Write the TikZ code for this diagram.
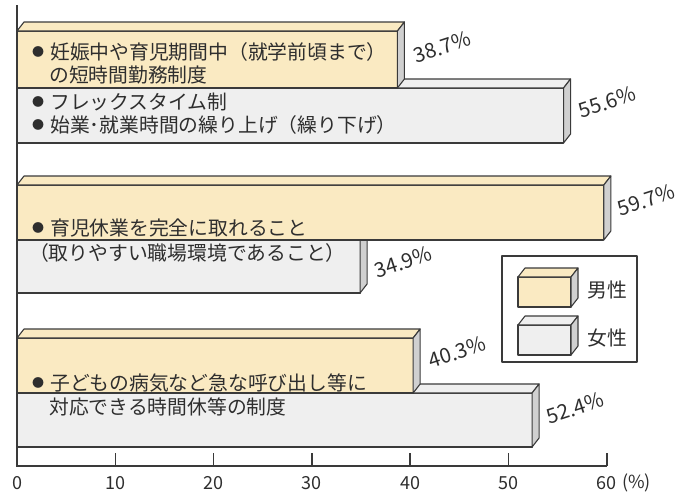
\documentclass[tikz,border=0pt]{standalone}
\usepackage{fontspec}
\setmainfont{Noto Sans CJK JP}
\usetikzlibrary{positioning}

\definecolor{malefill}{HTML}{FAEAC2}
\definecolor{femalefill}{HTML}{EFEFEF}
\definecolor{sidefill}{HTML}{D0D0D0}
\definecolor{edgegray}{HTML}{3A3A3A}
\definecolor{textgray}{HTML}{2E2E2E}

% 3D bar: fill, left x, right x, top y, bottom y
\newcommand{\cubebox}[5]{%
  \draw[box, fill=#1] (#2,#4) rectangle ({#3},#5);
  \draw[box, fill=#1] (#2,#4) -- ++(7,-9) -- ({#3+7},{#4-9}) -- ({#3},#4) -- cycle;
  \draw[box, fill=sidefill] ({#3},#4) -- ++(7,-9) -- ++(0,{#5-#4}) -- ({#3},#5) -- cycle;
}
% small bullet in front of an item
\newcommand{\blt}{\raisebox{2.6pt}{\fontsize{12pt}{12pt}\selectfont ●}\hspace{6pt}}

\begin{document}
\begin{tikzpicture}[
	x=1pt, y=-1pt,
	box/.style={draw=edgegray, line width=1.1pt, line join=round},
	axis/.style={draw=edgegray, line width=1.5pt},
	txt/.style={inner sep=0pt, anchor=west, text=textgray, font=\fontsize{19.8pt}{23pt}\selectfont},
	pct/.style={inner sep=0pt, text=textgray, rotate=18, font=\fontsize{20.5pt}{22pt}\selectfont},
	ticklbl/.style={inner sep=0pt, text=textgray, font=\fontsize{18pt}{20pt}\selectfont}
]
\useasboundingbox (0,0) rectangle (689,493);

% Bars (women first, men in front)
\cubebox{femalefill}{17}{17+9.83*55.6}{88}{143}
\cubebox{malefill}{17}{17+9.83*38.7}{31}{88}
\cubebox{femalefill}{17}{17+9.83*34.9}{240}{293}
\cubebox{malefill}{17}{17+9.83*59.7}{185}{240}
\cubebox{femalefill}{17}{17+9.83*52.4}{393}{447}
\cubebox{malefill}{17}{17+9.83*40.3}{338}{393}

% Bar texts
\node[txt] (t1a) at (32,52) {\blt 妊娠中や育児期間中（就学前頃まで）};
\node[txt] (t1b) at (49,75) {の短時間勤務制度};
\node[txt] (t2a) at (32,102) {\blt フレックスタイム制};
\node[txt] (t2b) at (32,125) {\blt 始業･就業時間の繰り上げ（繰り下げ）};
\node[txt] (t3a) at (32,228) {\blt 育児休業を完全に取れること};
\node[txt] (t3b) at (29,253) {（取りやすい職場環境であること）};
\node[txt] (t4a) at (32,383) {\blt 子どもの病気など急な呼び出し等に};
\node[txt] (t4b) at (49,407) {対応できる時間休等の制度};

% Percentages
\node[pct] (p1m) at (442,47) {38.7\%};
\node[pct] (p1f) at (607,102) {55.6\%};
\node[pct] (p2m) at (646,200) {59.7\%};
\node[pct] (p2f) at (403,262) {34.9\%};
\node[pct] (p3m) at (457,352) {40.3\%};
\node[pct] (p3f) at (575,408) {52.4\%};

% Axes
\draw[axis] (17,5) -- (17,466) -- (607,466);
\foreach \v in {1,...,6}
	\draw[axis] ({17+98.3*\v},466) -- ++(0,-13);
\foreach \v in {0,...,6}
	\node[ticklbl] (tk\v) at ({17+98.3*\v},483) {\pgfmathparse{int(10*\v)}\pgfmathresult};
\node[ticklbl, right=5pt of tk6] (unit) {(\%)};

% Legend
\draw[box] (502,256) rectangle (637,362);
\cubebox{malefill}{518}{571}{277}{307}
\cubebox{femalefill}{518}{571}{325}{355}
\node[txt, anchor=center] (lgm) at (607,290) {男性};
\node[txt, anchor=center] (lgf) at (607,338) {女性};

\end{tikzpicture}
\end{document}
